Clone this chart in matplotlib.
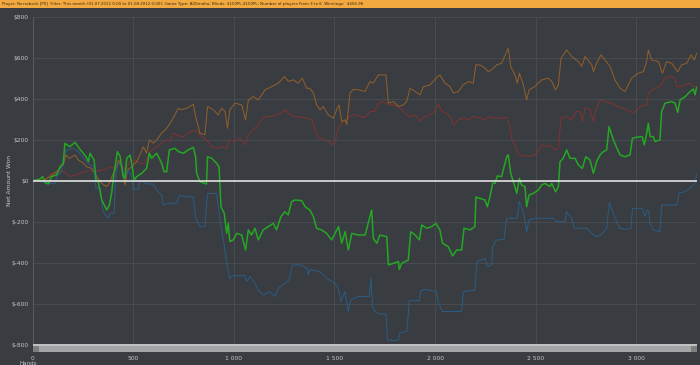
import matplotlib.pyplot as plt
from matplotlib.patches import Rectangle

#%%==============================================================================
# Data (hand number, net amount in $)

title_text = ("Player: Necrobeck [PS]  Filter: This month (01.07.2012 0:00 to 01.08.2012 0:00); "
              "Game Type: AllOmaha; Blinds: $100PL-$100PL; Number of players From 3 to 6  Winnings:  $456.98")

yticks = [-800, -600, -400, -200, 0, 200, 400, 600, 800]
ytick_labels = ["$-800", "$-600", "$-400", "$-200", "$0", "$200", "$400", "$600", "$800"]
xticks = [0, 500, 1000, 1500, 2000, 2500, 3000]
xtick_labels = ["0", "500", "1 000", "1 500", "2 000", "2 500", "3 000"]

# net won (green)
green_x = [0, 36, 50, 61, 78, 94, 119, 136, 152, 160, 185, 210, 235, 265, 277, 285, 305, 315, 326, 343,
           368, 381, 392, 404, 421, 434, 450, 459, 467, 484, 492, 504, 517, 542, 566, 580, 591, 616, 641,
           653, 666, 679, 707, 724, 749, 773, 798, 810, 815, 831, 864, 869, 890, 914, 926, 936, 952, 964,
           972, 980, 997, 1014, 1039, 1058, 1072, 1088, 1105, 1121, 1146, 1171, 1196, 1212, 1234, 1254,
           1270, 1287, 1304, 1337, 1354, 1378, 1395, 1411, 1436, 1461, 1486, 1520, 1536, 1553, 1569, 1586,
           1619, 1652, 1660, 1676, 1685, 1693, 1710, 1726, 1760, 1768, 1793, 1818, 1822, 1834, 1867, 1879,
           1901, 1922, 1934, 1958, 1983, 2004, 2024, 2037, 2066, 2087, 2107, 2132, 2144, 2174, 2198, 2203,
           2223, 2248, 2260, 2273, 2286, 2298, 2310, 2331, 2343, 2356, 2364, 2376, 2392, 2406, 2419, 2430,
           2447, 2455, 2467, 2488, 2513, 2530, 2546, 2571, 2580, 2599, 2613, 2621, 2637, 2654, 2671, 2696,
           2712, 2732, 2749, 2770, 2787, 2803, 2820, 2837, 2853, 2865, 2886, 2919, 2944, 2969, 2981, 3002,
           3030, 3040, 3052, 3060, 3069, 3085, 3093, 3118, 3126, 3143, 3176, 3193, 3206, 3218, 3243, 3268,
           3284, 3292, 3300]
green_y = [0, 8, 20, -10, -16, 20, 28, 68, 85, 182, 166, 187, 153, 117, 93, 134, 101, 3, -5, -94,
           -143, -119, -62, 36, 142, 120, 20, 11, 109, 125, 85, 3, 20, 36, 60, 134, 109, 134, 85,
           44, 44, 150, 158, 142, 134, 150, 163, 117, 36, -5, -16, 117, 109, 85, 68, -127, -159, -257,
           -208, -297, -289, -257, -265, -338, -240, -265, -232, -289, -240, -224, -208, -240, -175, -151,
           -167, -102, -94, -97, -127, -143, -175, -232, -240, -257, -289, -224, -305, -248, -338, -257,
           -265, -265, -237, -175, -143, -281, -305, -265, -273, -411, -403, -395, -433, -403, -387, -249,
           -265, -289, -216, -232, -224, -208, -240, -305, -322, -367, -338, -338, -232, -240, -224, -80,
           -86, -94, -127, -78, -13, -13, 23, 20, 68, 117, 126, 36, -13, -62, 11, -21,
           -29, -127, -70, -62, -46, -21, -13, -29, -13, -54, -29, 93, 109, 150, 109, 109,
           77, 60, 117, 101, 36, 93, 126, 142, 150, 264, 199, 126, 117, 126, 207, 212,
           215, 175, 231, 280, 215, 215, 191, 199, 337, 378, 386, 378, 333, 394, 410, 435,
           447, 419, 456]

# blue
blue_x = [0, 61, 86, 111, 119, 144, 152, 169, 202, 227, 252, 277, 302, 315, 335, 348, 365, 376, 384, 404,
          414, 426, 442, 459, 476, 492, 500, 525, 533, 550, 566, 600, 616, 641, 649, 674, 715, 729, 765,
          798, 810, 831, 856, 869, 914, 931, 952, 964, 980, 997, 1055, 1064, 1080, 1105, 1121, 1146, 1180,
          1204, 1221, 1254, 1274, 1291, 1337, 1362, 1370, 1378, 1428, 1461, 1502, 1519, 1532, 1552, 1569,
          1582, 1619, 1673, 1681, 1690, 1701, 1723, 1756, 1764, 1793, 1818, 1826, 1860, 1872, 1921, 1930,
          1950, 2008, 2016, 2037, 2132, 2141, 2198, 2207, 2248, 2260, 2281, 2286, 2306, 2343, 2356, 2409,
          2419, 2439, 2455, 2467, 2496, 2588, 2604, 2646, 2654, 2679, 2692, 2753, 2787, 2803, 2828, 2853,
          2866, 2886, 2903, 2919, 2953, 2974, 2981, 3030, 3043, 3052, 3063, 3068, 3085, 3118, 3126, 3201,
          3213, 3243, 3276, 3292, 3300]
blue_y = [0, -5, -13, -13, 20, 44, 117, 150, 158, 142, 109, 85, 68, -37, -37, -143, -175, -183, -159, -159,
          36, 85, 68, 20, 52, 20, -42, -42, 0, -5, -16, -16, -46, -70, -119, -110, -110, -73, -78,
          -78, -183, -224, -224, -62, -62, -191, -313, -403, -476, -463, -463, -492, -468, -500, -533, -557, -541,
          -565, -525, -500, -484, -411, -411, -427, -460, -433, -444, -476, -500, -525, -590, -541, -638,
          -581, -565, -565, -476, -614, -638, -650, -650, -777, -780, -777, -741, -736, -585, -585, -536,
          -530, -541, -595, -638, -638, -541, -533, -395, -379, -419, -411, -322, -289, -286, -183, -183,
          -102, -151, -249, -192, -183, -183, -200, -200, -151, -183, -232, -232, -265, -273, -260, -232,
          -107, -159, -200, -232, -237, -232, -135, -135, -175, -143, -151, -208, -240, -249, -119, -119,
          -59, -54, -29, -13, 33]

# orange
orange_x = [0, 53, 86, 128, 152, 165, 182, 210, 227, 252, 268, 293, 318, 343, 368, 384, 401, 414, 426, 442,
            459, 471, 492, 517, 533, 550, 566, 580, 600, 616, 641, 666, 683, 707, 724, 740, 765, 782, 798,
            810, 823, 831, 856, 869, 898, 922, 939, 956, 968, 980, 1005, 1039, 1058, 1072, 1096, 1121, 1155,
            1188, 1221, 1251, 1271, 1296, 1320, 1340, 1362, 1378, 1395, 1411, 1428, 1444, 1469, 1494, 1511,
            1523, 1536, 1553, 1561, 1577, 1594, 1619, 1652, 1676, 1693, 1718, 1756, 1768, 1793, 1818, 1843,
            1859, 1876, 1901, 1926, 1942, 1975, 2004, 2024, 2049, 2074, 2091, 2115, 2140, 2165, 2190, 2203,
            2223, 2248, 2265, 2281, 2306, 2331, 2356, 2364, 2376, 2397, 2409, 2419, 2439, 2455, 2467, 2496,
            2530, 2563, 2580, 2599, 2613, 2626, 2654, 2679, 2712, 2729, 2746, 2779, 2787, 2803, 2825, 2845,
            2870, 2894, 2919, 2944, 2977, 3010, 3035, 3052, 3060, 3077, 3110, 3130, 3151, 3176, 3206, 3226,
            3251, 3272, 3289, 3300]
orange_y = [0, 0, 20, 52, 77, 126, 109, 126, 101, 85, 68, 60, 20, -13, -29, -5, 36, 60, 101, 68,
            -21, 52, 68, 93, 126, 166, 134, 199, 183, 199, 232, 256, 280, 321, 354, 346, 354, 362, 374,
            312, 264, 232, 224, 362, 346, 321, 354, 338, 256, 346, 378, 370, 297, 394, 411, 394, 443,
            459, 476, 508, 484, 492, 476, 500, 451, 451, 427, 370, 346, 362, 321, 305, 346,
            370, 289, 297, 273, 427, 446, 443, 435, 484, 476, 516, 516, 378, 386, 362, 370,
            386, 451, 435, 419, 459, 467, 500, 516, 476, 459, 427, 435, 467, 484, 476, 565,
            565, 549, 532, 541, 565, 573, 630, 646, 557, 516, 476, 524, 467, 394, 443, 459,
            492, 500, 484, 443, 467, 597, 638, 606, 581, 557, 606, 565, 532, 573, 614, 589,
            557, 492, 451, 435, 500, 524, 532, 581, 638, 589, 581, 524, 581, 573, 532, 565,
            573, 614, 589, 622]

# red
red_x = [0, 53, 78, 94, 119, 144, 169, 185, 210, 235, 260, 285, 310, 335, 360, 384, 409, 434, 459, 484,
         509, 533, 558, 583, 608, 641, 666, 683, 699, 724, 749, 773, 798, 811, 831, 864, 890, 914, 939,
         964, 980, 1005, 1030, 1055, 1072, 1096, 1121, 1146, 1180, 1213, 1238, 1254, 1279, 1304, 1337,
         1370, 1387, 1403, 1420, 1444, 1469, 1486, 1503, 1519, 1536, 1561, 1586, 1611, 1627, 1652, 1676,
         1701, 1718, 1743, 1768, 1793, 1818, 1843, 1859, 1876, 1901, 1926, 1950, 1975, 2000, 2016, 2033,
         2057, 2077, 2091, 2115, 2140, 2165, 2190, 2206, 2223, 2248, 2265, 2290, 2323, 2356, 2369, 2381,
         2397, 2414, 2439, 2480, 2505, 2530, 2550, 2571, 2596, 2613, 2626, 2654, 2679, 2704, 2721, 2732,
         2746, 2770, 2787, 2799, 2820, 2845, 2878, 2911, 2944, 2986, 3019, 3052, 3060, 3085, 3118, 3143,
         3168, 3193, 3201, 3226, 3243, 3268, 3284, 3300]
red_y = [0, 0, 20, 36, 36, 49, 36, 20, 28, 33, 44, 49, 44, 52, 52, 68, 60, 85, 52, 93,
         101, 85, 85, 142, 158, 183, 199, 191, 232, 219, 215, 232, 244, 248, 224, 199, 166, 158, 166,
         158, 199, 191, 207, 175, 224, 248, 272, 309, 313, 321, 330, 346, 321, 313, 309,
         305, 297, 248, 207, 207, 191, 175, 191, 256, 280, 297, 321, 321, 313, 309, 338,
         338, 378, 386, 370, 370, 362, 338, 321, 313, 321, 289, 313, 321, 338, 374, 338,
         330, 309, 272, 297, 305, 297, 313, 309, 305, 297, 313, 305, 305, 309, 280, 207,
         175, 126, 121, 121, 130, 175, 166, 175, 150, 158, 305, 313, 297, 338, 338, 289,
         354, 349, 289, 346, 394, 386, 378, 359, 349, 330, 362, 370, 427, 446, 459, 500,
         508, 500, 459, 459, 467, 476, 459, 462]

#%%==============================================================================
# Colours

bg = '#393c40'
grid_c = '#4a4e53'
tick_c = '#c4c6c8'

#%%==============================================================================
# Plot

fig = plt.figure(figsize=(7, 3.65), dpi=100, facecolor=bg)

# orange title bar
fig.patches.append(Rectangle((0, 1 - 7.5 / 365), 1, 7.5 / 365, transform=fig.transFigure,
                             facecolor='#f2a93f', edgecolor='none'))
fig.text(0.003, 1 - 3.8 / 365, title_text, fontsize=2.85, color='#3a2a10', va='center', ha='left')

ax = fig.add_axes([32.7 / 700, 1 - 344.7 / 365, 664.3 / 700, 328 / 365])
ax.set_facecolor(bg)

ax.plot(red_x, red_y, color='#7d3434', lw=0.75)
ax.plot(orange_x, orange_y, color='#8f5e2c', lw=0.75)
ax.plot(blue_x, blue_y, color='#2b5b82', lw=0.75)
ax.plot(green_x, green_y, color='#24a824', lw=1.1)
ax.axhline(0, color='#e0e0e0', lw=1.2, zorder=5)

ax.set_xlim(0, 3302)
ax.set_ylim(-800, 800)
ax.set_yticks(yticks)
ax.set_yticklabels(ytick_labels)
ax.set_xticks(xticks)
ax.set_xticklabels(xtick_labels)
ax.tick_params(colors=tick_c, labelsize=4.3, length=0)
ax.tick_params(axis='x', pad=8)
ax.tick_params(axis='y', pad=3)
ax.grid(True, color=grid_c, lw=0.6)
ax.set_axisbelow(True)
for s in ['top', 'right', 'bottom']:
    ax.spines[s].set_visible(False)
ax.spines['left'].set_color('#55595e')
ax.spines['left'].set_linewidth(0.8)

fig.text(9.5 / 700, 1 - 180 / 365, "Net Amount Won", rotation=90, fontsize=4.3, color=tick_c,
         ha='center', va='center')
fig.text(20 / 700, 1 - 363.5 / 365, "Hands", fontsize=4.0, color=tick_c, ha='left', va='center')

# scrollbar at the bottom of the plot
sb = fig.add_axes([32.7 / 700, 1 - 352 / 365, 664.3 / 700, 8 / 365])
sb.set_facecolor('#a3a5a7')
sb.set_xlim(0, 664)
sb.set_ylim(0, 8)
sb.add_patch(Rectangle((0, 0), 6, 8, facecolor='#7c7e80', edgecolor='none'))
sb.add_patch(Rectangle((658, 0), 6, 8, facecolor='#7c7e80', edgecolor='none'))
sb.add_patch(Rectangle((0, 6.5), 664, 1.5, facecolor='#bfc1c3', edgecolor='none'))
sb.set_xticks([])
sb.set_yticks([])
for s in sb.spines.values():
    s.set_visible(False)

fig.savefig('out.png', dpi=100, facecolor=bg)
